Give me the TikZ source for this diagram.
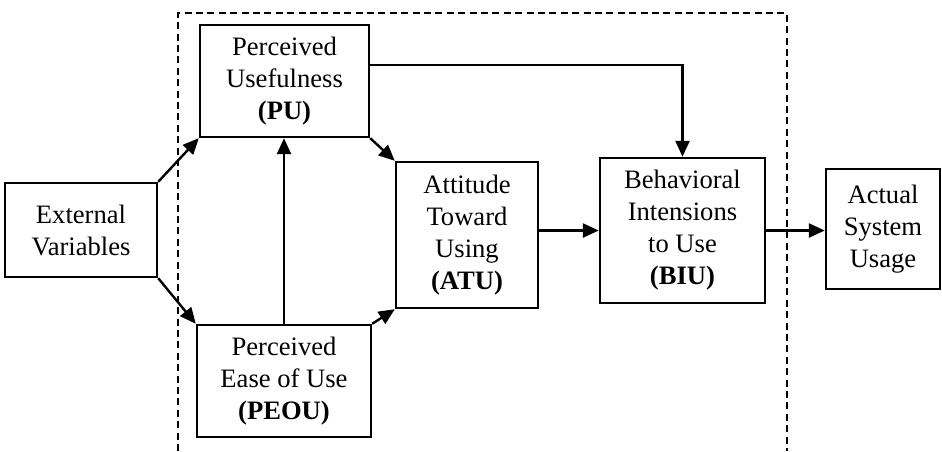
\documentclass[tikz,border=0pt]{standalone}
\usepackage{fontspec}
\setmainfont{Liberation Serif}
\usepackage{tikz}
\usetikzlibrary{arrows.meta}

\begin{document}
\begin{tikzpicture}[x=0.5pt, y=-0.5pt,
        box/.style={rectangle, draw, line width=1.2pt, align=center, inner sep=0pt, font=\fontsize{13.3}{16}\selectfont},
        link/.style={line width=1.2pt, -{Triangle[length=8pt,width=7pt]}},
        frame/.style={line width=1.1pt, dash pattern=on 3.5pt off 2.2pt}]
        \useasboundingbox (0,0) rectangle (942,451);
        % Frame
        \draw[frame] (178,451) -- (178,13) -- (787,13) -- (787,451);
        % Nodes
        \node[box, minimum width=76pt, minimum height=47pt] (ext) at (81,230) {External\\Variables};
        \node[box, minimum width=84.5pt, minimum height=56pt] (pu) at (284.5,81) {Perceived\\Usefulness\\\textbf{(PU)}};
        \node[box, minimum width=87pt, minimum height=56pt] (peou) at (284,381) {Perceived\\Ease of Use\\\textbf{(PEOU)}};
        \node[box, minimum width=71pt, minimum height=73pt] (atu) at (467,235) {Attitude\\Toward\\Using\\\textbf{(ATU)}};
        \node[box, minimum width=82.5pt, minimum height=72.5pt] (biu) at (682.5,230.5) {Behavioral\\Intensions\\to Use\\\textbf{(BIU)}};
        \node[box, minimum width=57pt, minimum height=60pt] (asu) at (883,229) {Actual\\System\\Usage};
        % Edges
        \draw[link] (ext.north east) -- (pu.south west);
        \draw[link] (ext.south east) -- (peou.north west);
        \draw[link] (pu.south east) -- (atu.north west);
        \draw[link] (peou.north east) -- (atu.south west);
        \draw[link] (peou.north) -- (peou.north |- pu.south);
        \draw[link] ([yshift=8pt]pu.east) -| (biu.north);
        \draw[link] (atu.east |- biu.west) -- (biu.west);
        \draw[link] (biu.east) -- (asu.west |- biu.east);
    \end{tikzpicture}
\end{document}
